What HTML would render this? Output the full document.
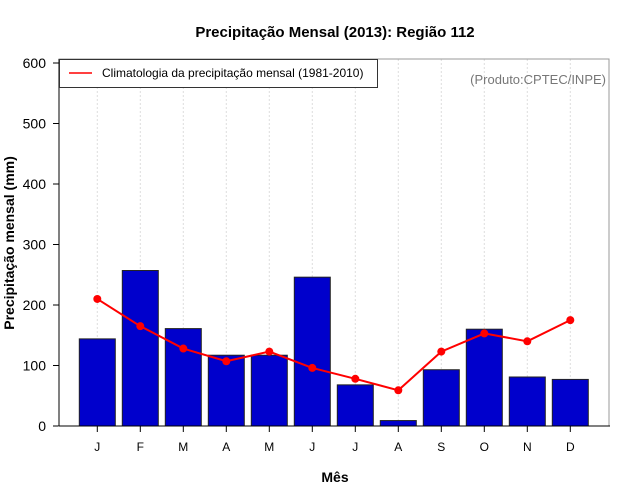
<!DOCTYPE html>
<html><head><meta charset="utf-8"><style>body{margin:0;background:#fff}svg{display:block;font-family:"Liberation Sans",sans-serif}</style></head>
<body>
<svg id="c" width="640" height="500">
<text x="335" y="37" text-anchor="middle" font-size="15" font-weight="bold">Precipitação Mensal (2013): Região 112</text>
<g id="grid"></g><g id="bars"></g><g id="line"></g><g id="axes"></g>
<rect x="59" y="59" width="550" height="367" fill="none" stroke="#999" stroke-width="1"/>
<line x1="59" y1="59" x2="59" y2="426" stroke="#000"/>
<line x1="59" y1="426" x2="610" y2="426" stroke="#000"/>
<g>
<rect x="59.5" y="59.5" width="318" height="28" fill="#fff" stroke="#333"/>
<line x1="69" y1="73" x2="92" y2="73" stroke="#f00" stroke-width="1.5"/>
<text x="102" y="77" font-size="12">Climatologia da precipitação mensal (1981-2010)</text>
</g>
<text x="606" y="84" text-anchor="end" font-size="13" fill="#777">(Produto:CPTEC/INPE)</text>
<text x="335" y="482" text-anchor="middle" font-size="14" font-weight="bold">Mês</text>
<text transform="translate(14,243) rotate(-90)" text-anchor="middle" font-size="14" font-weight="bold">Precipitação mensal (mm)</text>
</svg>
<script>
const months=["J","F","M","A","M","J","J","A","S","O","N","D"];
const observed=[144,257,161,117,117,246,68,9,93,160,81,77];
const climatology=[210,165,128,107,123,96,78,59,123,153,140,175];
const yTicks=[0,100,200,300,400,500,600];
const NS="http://www.w3.org/2000/svg";
const x=i=>97.3+i*43;
const y=v=>426-v*363/600;
function mk(t,a,p){const e=document.createElementNS(NS,t);for(const k in a)e.setAttribute(k,a[k]);p.appendChild(e);return e;}
const grid=document.getElementById('grid'),bars=document.getElementById('bars'),line=document.getElementById('line'),axes=document.getElementById('axes');
months.forEach((m,i)=>{
  const g=mk('line',{x1:x(i),x2:x(i),y1:59,y2:426,stroke:'#ddd','stroke-dasharray':'2,2'},grid);
  
  
  const b=mk('rect',{x:x(i)-18,y:y(observed[i]),width:36,height:y(0)-y(observed[i]),fill:'#0000cc',stroke:'#222','stroke-width':1},bars);
  
  
  const t=mk('line',{x1:x(i),x2:x(i),y1:426,y2:432,stroke:'#000'},axes);
  
  
  const l=mk('text',{x:x(i),y:451,'text-anchor':'middle','font-size':12},axes);
  l.textContent=m;
  
  
});
const pl=mk('polyline',{points:climatology.map((v,i)=>x(i)+','+y(v)).join(' '),fill:'none',stroke:'#f00','stroke-width':2},line);


climatology.forEach((v,i)=>{
  const c=mk('circle',{cx:x(i),cy:y(v),r:4,fill:'#f00'},line);
  
  
});
yTicks.forEach(v=>{
  const t=mk('line',{x1:53,x2:59,y1:y(v),y2:y(v),stroke:'#000'},axes);
  
  
  const l=mk('text',{x:46,y:y(v)+5,'text-anchor':'end','font-size':14},axes);
  l.textContent=v;
  
  
});
</script>
</body></html>
